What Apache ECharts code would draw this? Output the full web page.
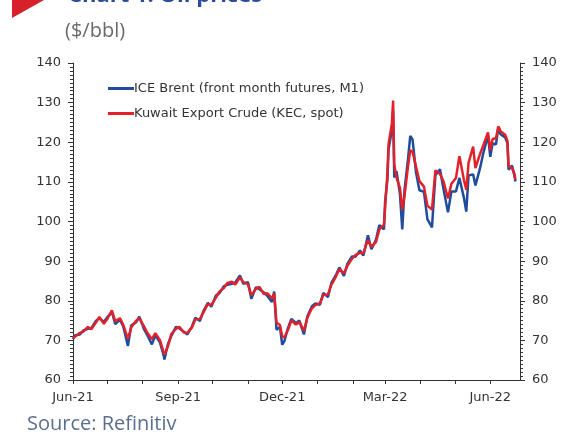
<!DOCTYPE html>
<html>
<head>
<meta charset="utf-8">
<script src="https://cdn.jsdelivr.net/npm/echarts@6/dist/echarts.min.js"></script>
<style>
html,body{margin:0;padding:0;background:#fff;}
#chart{width:568px;height:439px;}
</style>
</head>
<body>
<div id="chart"></div>
<script>
const dates = [
'2021-06-01','2021-06-03','2021-06-07','2021-06-10','2021-06-14','2021-06-17','2021-06-21','2021-06-24','2021-06-28',
'2021-07-01','2021-07-05','2021-07-08','2021-07-12','2021-07-15','2021-07-19','2021-07-22','2021-07-26','2021-07-29',
'2021-08-02','2021-08-05','2021-08-09','2021-08-12','2021-08-16','2021-08-19','2021-08-20','2021-08-23','2021-08-26','2021-08-30',
'2021-09-02','2021-09-06','2021-09-09','2021-09-13','2021-09-16','2021-09-20','2021-09-23','2021-09-27','2021-09-30',
'2021-10-04','2021-10-07','2021-10-11','2021-10-14','2021-10-18','2021-10-21','2021-10-25','2021-10-28',
'2021-11-01','2021-11-04','2021-11-08','2021-11-11','2021-11-15','2021-11-18','2021-11-22','2021-11-24','2021-11-26','2021-11-29',
'2021-12-01','2021-12-03','2021-12-06','2021-12-09','2021-12-13','2021-12-16','2021-12-20','2021-12-23','2021-12-27','2021-12-30',
'2022-01-03','2022-01-06','2022-01-10','2022-01-13','2022-01-17','2022-01-20','2022-01-24','2022-01-27','2022-01-31',
'2022-02-03','2022-02-07','2022-02-10','2022-02-14','2022-02-17','2022-02-21','2022-02-24','2022-02-28',
'2022-03-01','2022-03-03','2022-03-04','2022-03-07','2022-03-08','2022-03-09','2022-03-11','2022-03-14','2022-03-16','2022-03-18',
'2022-03-21','2022-03-23','2022-03-25','2022-03-28','2022-03-31',
'2022-04-04','2022-04-07','2022-04-11','2022-04-14','2022-04-18','2022-04-21','2022-04-25','2022-04-28',
'2022-05-02','2022-05-05','2022-05-09','2022-05-11','2022-05-13','2022-05-17','2022-05-19','2022-05-23','2022-05-26','2022-05-30',
'2022-06-01','2022-06-03','2022-06-06','2022-06-08','2022-06-10','2022-06-14','2022-06-16','2022-06-17','2022-06-20','2022-06-22','2022-06-23'
];
const brent = [
70.3,71.3,71.5,72.5,72.9,73.1,74.9,75.6,74.7,
75.8,77.2,74.1,75.2,73.5,68.6,73.8,74.5,76.0,
72.9,71.3,69.0,71.3,69.5,66.5,65.2,69.0,71.1,73.4,
73.0,72.2,71.5,73.5,75.7,74.9,77.3,79.5,78.5,
81.3,81.9,83.7,84.0,84.3,84.6,86.4,84.3,
84.7,80.5,83.4,82.9,82.1,81.2,79.7,82.3,72.7,73.4,
68.9,69.9,73.1,75.4,74.4,75.0,71.5,76.1,78.6,79.3,
79.0,82.0,80.9,84.5,86.5,88.4,86.3,89.3,91.2,
91.1,92.7,91.4,96.5,93.0,95.4,99.1,98.0,
105.0,110.5,118.1,123.2,128.0,111.1,112.7,106.9,98.0,108.0,
115.6,121.6,120.7,112.5,107.9,
107.5,100.6,98.5,111.7,113.2,108.3,102.3,107.6,
107.6,111.0,105.9,102.5,111.6,111.9,109.1,113.4,117.4,121.7,
116.3,119.7,119.5,123.6,122.0,121.2,119.8,113.1,114.1,111.7,110.1
];
const kec = [
70.6,71.0,71.9,72.2,73.4,72.8,74.5,75.9,74.2,
75.4,77.6,74.8,75.6,73.9,70.4,73.3,74.9,75.6,
73.6,71.9,70.3,71.8,70.1,67.3,66.4,68.5,71.6,72.9,
73.4,72.0,71.9,73.2,75.3,75.4,77.0,79.2,78.9,
80.8,82.3,83.2,84.5,84.8,84.1,85.9,84.7,
84.2,81.4,83.0,83.5,81.7,81.9,80.6,81.8,74.5,73.9,
71.0,70.8,72.6,75.0,74.0,74.6,72.4,75.7,78.1,78.9,
79.4,81.5,81.6,84.0,86.1,88.0,86.9,88.8,90.6,
91.5,92.1,92.0,95.3,93.6,94.8,98.0,99.2,
103.5,112.0,119.5,124.8,130.5,114.5,111.0,108.5,103.0,106.5,
113.8,118.0,117.6,113.9,110.2,
108.8,104.0,103.0,112.9,112.0,110.2,105.8,109.5,
111.0,116.5,110.4,108.0,114.8,118.9,113.5,117.0,119.3,122.5,
118.0,120.8,121.0,124.0,122.8,121.9,120.4,114.0,113.5,112.2,110.6
];
const seriesNames = ['ICE Brent (front month futures, M1)','Kuwait Export Crude (KEC, spot)'];
const monthTickDates = ['2021-06-01','2021-07-01','2021-08-01','2021-09-01','2021-10-01','2021-11-01','2021-12-01',
  '2022-01-01','2022-02-01','2022-03-01','2022-04-01','2022-05-01','2022-06-01'];
const xLabelDates = ['2021-06-01','2021-09-01','2021-12-01','2022-03-01','2022-06-01'];
const xLabels = ['Jun-21','Sep-21','Dec-21','Mar-22','Jun-22'];
const xStart = '2021-06-01', xEnd = '2022-06-27';
const yMin = 60, yMax = 140, yStep = 10;

const DAY = 86400000;
function ts(s){ const p = s.split('-'); return Math.round(Date.UTC(+p[0], +p[1]-1, +p[2]) / DAY); }
const labelMap = {};
xLabelDates.forEach((d,i)=>{ labelMap[ts(d)] = xLabels[i]; });

const chart = echarts.init(document.getElementById('chart'), null, {renderer:'canvas'});
const FONT = 'DejaVu Sans';
const yAxisCommon = {
  type:'value', min:yMin, max:yMax, interval:yStep,
  axisLine:{show:true, lineStyle:{color:'#333', width:1}},
  axisTick:{show:true, length:5, lineStyle:{color:'#333'}},
  minorTick:{show:true, splitNumber:10, length:3, lineStyle:{color:'#333'}},
  splitLine:{show:false},
  axisLabel:{color:'#333', fontSize:13, fontFamily:FONT, margin:12}
};
chart.setOption({
  animation:false,
  backgroundColor:'#fff',
  grid:{left:73, right:48, top:63, bottom:59, containLabel:false},
  xAxis:{
    type:'value', min:ts(xStart), max:ts(xEnd),
    axisLine:{show:true, onZero:false, lineStyle:{color:'#333', width:1}},
    axisTick:{show:true, length:4, customValues: monthTickDates.map(ts), lineStyle:{color:'#333'}},
    splitLine:{show:false},
    axisLabel:{
      show:true, customValues: xLabelDates.map(ts), color:'#333', fontSize:13, fontFamily:FONT, margin:11,
      formatter:function(v){ return labelMap[v] || ''; }
    }
  },
  yAxis:[
    Object.assign({position:'left'}, yAxisCommon),
    Object.assign({position:'right'}, yAxisCommon)
  ],
  legend:{
    show:true, orient:'vertical', left:103, top:77, itemGap:12,
    itemWidth:26, itemHeight:3, icon:'rect',
    textStyle:{color:'#333', fontSize:13, fontFamily:FONT, padding:[0,0,0,-5]},
    data:seriesNames
  },
  series:[
    {name:seriesNames[0], type:'line', yAxisIndex:0, showSymbol:false, symbol:'none',
     lineStyle:{color:'#1f4d9c', width:2.5}, itemStyle:{color:'#1f4d9c'},
     data: dates.map((d,i)=>[ts(d), brent[i]])},
    {name:seriesNames[1], type:'line', yAxisIndex:0, showSymbol:false, symbol:'none',
     lineStyle:{color:'#e2222a', width:2.5}, itemStyle:{color:'#e2222a'},
     data: dates.map((d,i)=>[ts(d), kec[i]])}
  ],
  graphic:[
    {type:'polygon', shape:{points:[[12,0],[44,0],[12,18]]}, style:{fill:'#d6202a'}},
    {type:'text', left:68, top:-15, style:{text:'Chart 1: Oil prices', fill:'#2b4c9b', font:'bold 22px "Open Sans"'}},
    {type:'text', left:65, top:21, style:{text:'($/bbl)', fill:'#6a6a6a', font:'20px "Open Sans"'}},
    {type:'text', left:27, top:414, style:{text:'Source: Refinitiv', fill:'#5a6f8e', font:'20px "Open Sans"'}}
  ]
});
</script>
</body>
</html>
